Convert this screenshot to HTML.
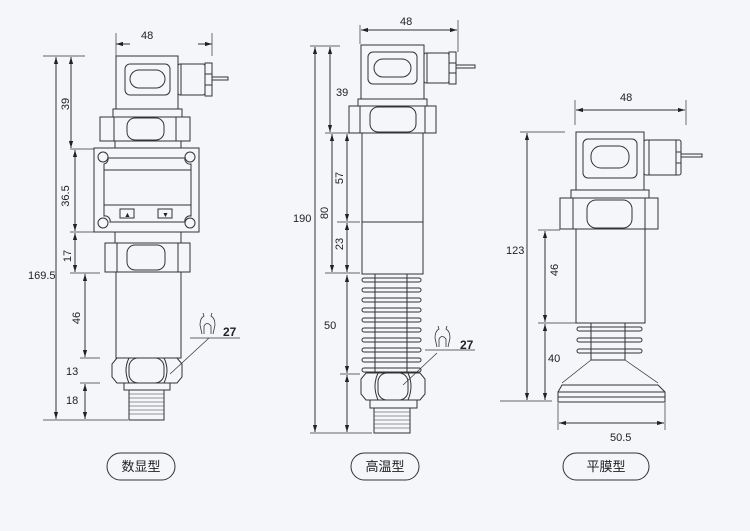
<!DOCTYPE html>
<html><head><meta charset="utf-8"><style>
html,body{margin:0;padding:0;background:#f4f6fa;}
svg{display:block;}
text{font-family:"Liberation Sans","Noto Sans CJK SC",sans-serif;fill:#222;font-size:11px;}
.cn{font-family:"Liberation Sans","Noto Sans CJK SC",sans-serif;font-size:13px;}
</style></head><body>
<svg width="750" height="531" viewBox="0 0 750 531" xmlns="http://www.w3.org/2000/svg">
<defs>
<marker id="a" viewBox="0 0 10 10" refX="10" refY="5" markerWidth="7" markerHeight="7" orient="auto-start-reverse"><path d="M0,2 L10,5 L0,8z" fill="#222"/></marker>
</defs>
<rect width="750" height="531" fill="#f4f6fa"/>
<g fill="none" stroke="#333" stroke-width="1">
<!-- ===== Drawing 1 ===== -->
<line x1="116" y1="33" x2="116" y2="56" stroke-width=".7"/>
<line x1="212" y1="33" x2="212" y2="56" stroke-width=".7"/>
<line x1="116" y1="44" x2="130" y2="44" marker-start="url(#a)"/>
<line x1="198" y1="44" x2="212" y2="44" marker-end="url(#a)"/>
<rect x="116" y="56" width="62" height="53"/>
<rect x="125" y="64" width="45" height="31" rx="5"/>
<rect x="130" y="70" width="35" height="18" rx="9"/>
<rect x="178" y="64" width="27" height="31" rx="2"/>
<line x1="181" y1="64" x2="181" y2="95"/>
<rect x="205" y="63" width="7" height="33"/>
<line x1="205" y1="74" x2="212" y2="74"/><line x1="205" y1="85" x2="212" y2="85"/>
<rect x="212" y="77" width="16" height="3"/>
<rect x="113" y="109" width="69" height="8"/>
<rect x="100" y="117" width="90" height="24"/>
<line x1="114" y1="117" x2="114" y2="141"/><line x1="176" y1="117" x2="176" y2="141"/>
<rect x="127" y="118" width="37" height="22" rx="8"/>
<rect x="115" y="141" width="66" height="7"/>
<rect x="94" y="148" width="105" height="84"/>
<path d="M108,158 H185 A5,5 0 0 0 191,164 V216 A5,5 0 0 0 185,222 H110 A5,5 0 0 0 104,216 V164 A5,5 0 0 0 108,158z"/>
<circle cx="103" cy="157" r="5"/><circle cx="190" cy="157" r="5"/><circle cx="103" cy="223" r="5"/><circle cx="190" cy="223" r="5"/>
<rect x="104" y="170" width="87" height="35"/>
<rect x="120" y="209" width="14" height="9"/><rect x="158" y="209" width="14" height="9"/>
<rect x="115" y="232" width="66" height="11"/>
<rect x="105" y="243" width="85" height="29"/>
<line x1="117" y1="243" x2="117" y2="272"/><line x1="178" y1="243" x2="178" y2="272"/>
<rect x="127" y="245" width="38" height="25" rx="8"/>
<rect x="116" y="272" width="65" height="86"/>
<path d="M117,358 H177 L182,364 V377 L177,383 H117 L112,377 V364z"/>
<path d="M129,358 Q123,370 129,383 M164,358 Q170,370 164,383"/>
<rect x="129" y="358" width="35" height="25" rx="9"/>
<rect x="124" y="383" width="46" height="7"/>
<rect x="129" y="390" width="35" height="30"/>
<g stroke-width=".6"><line x1="129" y1="394" x2="164" y2="394"/><line x1="129" y1="398" x2="164" y2="398"/><line x1="129" y1="402" x2="164" y2="402"/><line x1="129" y1="406" x2="164" y2="406"/><line x1="129" y1="410" x2="164" y2="410"/><line x1="129" y1="414" x2="164" y2="414"/></g>
<!-- dims 1 -->
<g stroke-width=".7">
<line x1="43" y1="56" x2="85" y2="56"/><line x1="43" y1="420" x2="128" y2="420"/>
<line x1="70" y1="149" x2="94" y2="149"/><line x1="70" y1="232" x2="105" y2="232"/>
<line x1="70" y1="273" x2="100" y2="273"/><line x1="80" y1="358" x2="100" y2="358"/><line x1="80" y1="383" x2="100" y2="383"/>
</g>
<line x1="56" y1="57" x2="56" y2="419" marker-start="url(#a)" marker-end="url(#a)"/>
<line x1="71" y1="57" x2="71" y2="148" marker-start="url(#a)" marker-end="url(#a)"/>
<line x1="75" y1="150" x2="75" y2="231" marker-start="url(#a)" marker-end="url(#a)"/>
<line x1="75" y1="233" x2="75" y2="272" marker-start="url(#a)" marker-end="url(#a)"/>
<line x1="85" y1="274" x2="85" y2="357" marker-start="url(#a)" marker-end="url(#a)"/>
<line x1="85" y1="384" x2="85" y2="419" marker-start="url(#a)" marker-end="url(#a)"/>
<path d="M202,334 L200,325 Q200,318 204,316 L203,313 M213,334 L215,325 Q215,318 211,316 L212,313 M204,334 V326 Q207,321 211,326 V334" stroke-width=".8"/>
<line x1="190" y1="338" x2="240" y2="338" stroke-width=".7"/>
<line x1="209" y1="338" x2="170" y2="374" stroke-width=".7"/>
<!-- ===== Drawing 2 ===== -->
<line x1="360" y1="25" x2="360" y2="44" stroke-width=".7"/>
<line x1="458" y1="20" x2="458" y2="52" stroke-width=".7"/>
<line x1="361" y1="30" x2="457" y2="30" marker-start="url(#a)" marker-end="url(#a)"/>
<rect x="361" y="45" width="63" height="54"/>
<rect x="368" y="52" width="49" height="32" rx="5"/>
<rect x="374" y="59" width="37" height="18" rx="9"/>
<rect x="424" y="53" width="25" height="30" rx="2"/>
<line x1="427" y1="53" x2="427" y2="83"/>
<rect x="449" y="52" width="7" height="32"/>
<line x1="449" y1="63" x2="456" y2="63"/><line x1="449" y1="73" x2="456" y2="73"/>
<rect x="456" y="65" width="19" height="3"/>
<rect x="358" y="99" width="69" height="7"/>
<rect x="349" y="106" width="87" height="27"/>
<line x1="360" y1="106" x2="360" y2="133"/><line x1="425" y1="106" x2="425" y2="133"/>
<rect x="370" y="107" width="46" height="25" rx="8"/>
<rect x="362" y="133" width="61" height="141"/>
<line x1="362" y1="222" x2="423" y2="222"/>
<rect x="375" y="274" width="32" height="99"/>
<g>
<rect x="362" y="278" width="59" height="4" rx="2"/><rect x="362" y="288" width="59" height="4" rx="2"/>
<rect x="362" y="298" width="59" height="4" rx="2"/><rect x="362" y="308" width="59" height="4" rx="2"/>
<rect x="362" y="318" width="59" height="4" rx="2"/><rect x="362" y="328" width="59" height="4" rx="2"/>
<rect x="362" y="338" width="59" height="4" rx="2"/><rect x="362" y="348" width="59" height="4" rx="2"/>
<rect x="362" y="358" width="59" height="4" rx="2"/><rect x="362" y="368" width="59" height="4" rx="2"/>
</g>
<path d="M366,373 H420 L425,379 V394 L420,400 H366 L361,394 V379z"/>
<path d="M378,373 Q372,386 378,400 M408,373 Q414,386 408,400"/>
<rect x="378" y="373" width="30" height="27" rx="9"/>
<rect x="370" y="400" width="47" height="8"/>
<rect x="374" y="408" width="36" height="25"/>
<g stroke-width=".6"><line x1="374" y1="412" x2="410" y2="412"/><line x1="374" y1="416" x2="410" y2="416"/><line x1="374" y1="420" x2="410" y2="420"/><line x1="374" y1="424" x2="410" y2="424"/><line x1="374" y1="428" x2="410" y2="428"/></g>
<g stroke-width=".7">
<line x1="310" y1="46" x2="340" y2="46"/><line x1="310" y1="433" x2="372" y2="433"/>
<line x1="325" y1="133" x2="360" y2="133"/><line x1="337" y1="222" x2="360" y2="222"/>
<line x1="325" y1="273" x2="360" y2="273"/><line x1="340" y1="374" x2="360" y2="374"/>
</g>
<line x1="315" y1="47" x2="315" y2="432" marker-start="url(#a)" marker-end="url(#a)"/>
<line x1="330" y1="47" x2="330" y2="132" marker-start="url(#a)" marker-end="url(#a)"/>
<line x1="332" y1="134" x2="332" y2="272" marker-start="url(#a)" marker-end="url(#a)"/>
<line x1="347" y1="134" x2="347" y2="221" marker-start="url(#a)" marker-end="url(#a)"/>
<line x1="347" y1="223" x2="347" y2="272" marker-start="url(#a)" marker-end="url(#a)"/>
<line x1="347" y1="275" x2="347" y2="373" marker-start="url(#a)" marker-end="url(#a)"/>
<line x1="347" y1="375" x2="347" y2="432" marker-start="url(#a)" marker-end="url(#a)"/>
<path d="M437,347 L435,338 Q435,331 439,329 L438,326 M448,347 L450,338 Q450,331 446,329 L447,326 M439,347 V339 Q442,334 446,339 V347" stroke-width=".8"/>
<line x1="425" y1="350" x2="475" y2="350" stroke-width=".7"/>
<line x1="437" y1="353" x2="403" y2="385" stroke-width=".7"/>
<!-- ===== Drawing 3 ===== -->
<line x1="575" y1="100" x2="575" y2="125" stroke-width=".7"/>
<line x1="686" y1="100" x2="686" y2="125" stroke-width=".7"/>
<line x1="576" y1="110" x2="685" y2="110" marker-start="url(#a)" marker-end="url(#a)"/>
<rect x="576" y="132" width="68" height="58"/>
<rect x="583" y="139" width="54" height="39" rx="5"/>
<rect x="591" y="146" width="38" height="22" rx="10"/>
<rect x="644" y="140" width="37" height="35" rx="2"/>
<line x1="649" y1="140" x2="649" y2="175"/>
<line x1="676" y1="140" x2="676" y2="175"/>
<line x1="676" y1="152" x2="681" y2="152"/><line x1="676" y1="163" x2="681" y2="163"/>
<rect x="681" y="154" width="21" height="3"/>
<rect x="571" y="190" width="78" height="8"/>
<rect x="560" y="198" width="98" height="31"/>
<line x1="573" y1="198" x2="573" y2="229"/><line x1="645" y1="198" x2="645" y2="229"/>
<rect x="587" y="200" width="45" height="28" rx="9"/>
<rect x="576" y="229" width="69" height="94"/>
<rect x="591" y="323" width="34" height="37"/>
<rect x="577" y="327" width="65" height="4" rx="2"/><rect x="577" y="338" width="65" height="4" rx="2"/><rect x="577" y="349" width="65" height="4" rx="2"/>
<path d="M591,360 L562,383 M625,360 L658,383" stroke-width=".7"/>
<path d="M562,385 H658 L665,392 V402 H558 V392z"/>
<line x1="558" y1="392" x2="665" y2="392"/><line x1="558" y1="397" x2="665" y2="397"/>
<g stroke-width=".7">
<line x1="520" y1="132" x2="565" y2="132"/><line x1="500" y1="401" x2="552" y2="401"/>
<line x1="538" y1="230" x2="560" y2="230"/><line x1="538" y1="323" x2="576" y2="323"/>
<line x1="558" y1="403" x2="558" y2="430"/><line x1="665" y1="403" x2="665" y2="430"/>
</g>
<line x1="527" y1="133" x2="527" y2="400" marker-start="url(#a)" marker-end="url(#a)"/>
<line x1="545" y1="231" x2="545" y2="322" marker-start="url(#a)" marker-end="url(#a)"/>
<line x1="545" y1="324" x2="545" y2="400" marker-start="url(#a)" marker-end="url(#a)"/>
<line x1="559" y1="423" x2="664" y2="423" marker-start="url(#a)" marker-end="url(#a)"/>
<!-- pills -->
<rect x="107" y="453" width="68" height="27" rx="13.5"/>
<rect x="351" y="453" width="68" height="27" rx="13.5"/>
<rect x="563" y="453" width="86" height="27" rx="13.5"/>
</g>
<!-- text -->
<text x="141" y="39">48</text>
<text x="28" y="279">169.5</text>
<text transform="translate(69,104) rotate(-90)" text-anchor="middle">39</text>
<text transform="translate(69,196) rotate(-90)" text-anchor="middle">36.5</text>
<text transform="translate(71,256) rotate(-90)" text-anchor="middle">17</text>
<text transform="translate(80,318) rotate(-90)" text-anchor="middle">46</text>
<text x="66" y="375">13</text>
<text x="66" y="404">18</text>
<text x="223" y="336" style="font-size:12px;font-weight:bold">27</text>
<text x="124" y="217" style="font-size:7px">▲</text>
<text x="162" y="217" style="font-size:7px">▼</text>
<text x="400" y="25">48</text>
<text x="293" y="222">190</text>
<text x="336" y="96">39</text>
<text transform="translate(328,213) rotate(-90)" text-anchor="middle">80</text>
<text transform="translate(343,178) rotate(-90)" text-anchor="middle">57</text>
<text transform="translate(343,244) rotate(-90)" text-anchor="middle">23</text>
<text x="324" y="329">50</text>
<text x="460" y="349" style="font-size:12px;font-weight:bold">27</text>
<text x="620" y="101">48</text>
<text x="506" y="254">123</text>
<text transform="translate(558,270) rotate(-90)" text-anchor="middle">46</text>
<text x="548" y="362">40</text>
<text x="610" y="441">50.5</text>
<text class="cn" x="141" y="471" text-anchor="middle">数显型</text>
<text class="cn" x="385" y="471" text-anchor="middle">高温型</text>
<text class="cn" x="606" y="471" text-anchor="middle">平膜型</text>
</svg>
</body></html>
